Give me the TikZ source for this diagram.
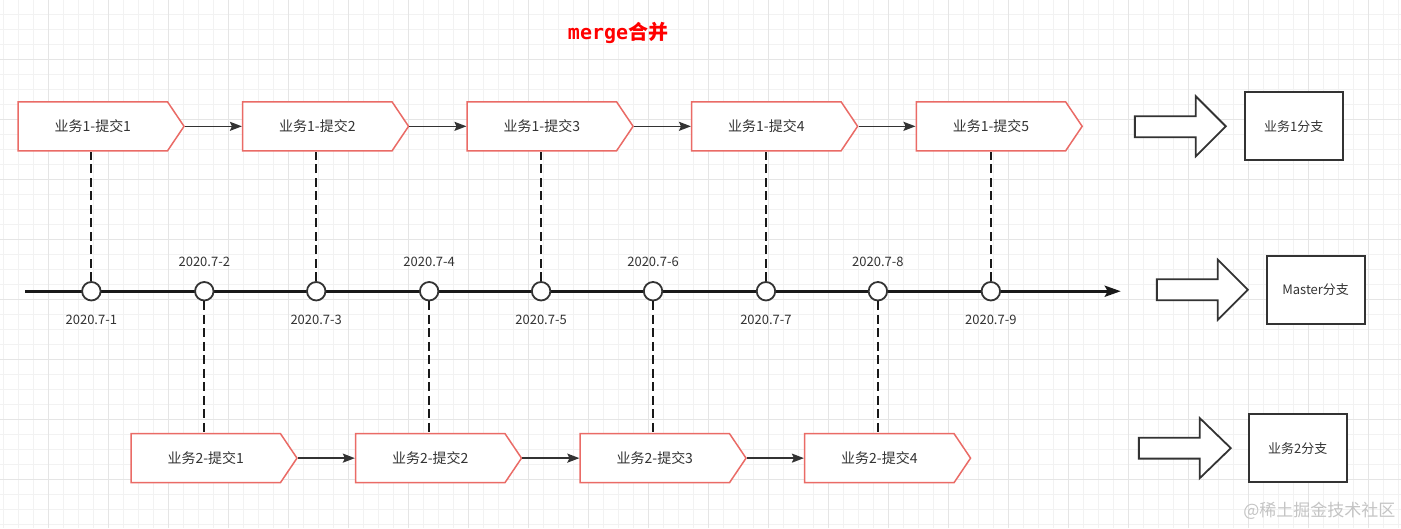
\documentclass[tikz,border=0pt]{standalone}
\usepackage{fontspec}
\setmainfont{Noto Sans CJK SC}
\newfontfamily\monofont{DejaVu Sans Mono}
\usepackage{tikz}
\usetikzlibrary{shapes.symbols, arrows.meta, positioning}

\definecolor{commitred}{HTML}{EA6B66}
\definecolor{inkgray}{HTML}{333333}
\definecolor{gridminor}{HTML}{F2F2F2}
\definecolor{gridmajor}{HTML}{E5E5E5}
\definecolor{markgray}{HTML}{C4C4C4}

\begin{document}
\begin{tikzpicture}[
  x=1pt, y=-1pt,
  commit/.style={signal, signal to=east, signal pointer angle=112, draw=commitred, fill=white, line width=1.5pt, minimum width=166pt, minimum height=49pt, inner sep=0pt, text=inkgray, font=\fontsize{14}{16}\selectfont},
  dot/.style={circle, draw=inkgray, fill=white, line width=1.8pt, minimum size=18.5pt, inner sep=0pt},
  datelbl/.style={inner sep=0pt, text=inkgray, font=\fontsize{13}{15}\selectfont},
  branch/.style={rectangle, draw=inkgray, fill=white, line width=1.8pt, minimum width=98pt, minimum height=68pt, text=inkgray, font=\fontsize{13}{15}\selectfont},
  bigarrow/.style={draw=inkgray, fill=white, line width=1.8pt, line join=miter},
  arrow/.style={-{Stealth[length=12pt, width=9pt, inset=2pt]}, line width=1.6pt, draw=inkgray},
  timeline/.style={-{Stealth[length=16pt, width=11pt, inset=3pt]}, line width=3pt, draw=black!90},
  dashline/.style={dash pattern=on 9pt off 4.5pt, line width=2pt, draw=black!90}
]

% background and grid
\fill[white] (0,0) rectangle (1401,528);
\foreach \gx in {3.3,18.3,...,1401} \draw[gridminor, line width=0.8pt] (\gx,0) -- (\gx,528);
\foreach \gy in {14.3,29.3,...,528} \draw[gridminor, line width=0.8pt] (0,\gy) -- (1401,\gy);
\foreach \gx in {48.3,108.3,...,1401} \draw[gridmajor, line width=0.8pt] (\gx,0) -- (\gx,528);
\foreach \gy in {59.3,119.3,...,528} \draw[gridmajor, line width=0.8pt] (0,\gy) -- (1401,\gy);
\useasboundingbox (0,0) rectangle (1401,528);

% title
\node[text=red, font=\fontsize{20}{24}\selectfont\bfseries] (title) at (618,33) {{\monofont\bfseries merge}合并};

% master timeline
\coordinate (tstart) at (25,291);
\coordinate (tend) at (1121,291);
\draw[timeline] (tstart) -- (tend);

\node[dot] (m1) at (91,291) {};
\node[dot] (m2) at (204,291) {};
\node[dot] (m3) at (316,291) {};
\node[dot] (m4) at (429,291) {};
\node[dot] (m5) at (541,291) {};
\node[dot] (m6) at (653,291) {};
\node[dot] (m7) at (766,291) {};
\node[dot] (m8) at (878,291) {};
\node[dot] (m9) at (991,291) {};

\node[datelbl, below=13pt of m1] (d1) {2020.7-1};
\node[datelbl, above=14pt of m2] (d2) {2020.7-2};
\node[datelbl, below=13pt of m3] (d3) {2020.7-3};
\node[datelbl, above=14pt of m4] (d4) {2020.7-4};
\node[datelbl, below=13pt of m5] (d5) {2020.7-5};
\node[datelbl, above=14pt of m6] (d6) {2020.7-6};
\node[datelbl, below=13pt of m7] (d7) {2020.7-7};
\node[datelbl, above=14pt of m8] (d8) {2020.7-8};
\node[datelbl, below=13pt of m9] (d9) {2020.7-9};

% branch 1 commits
\node[commit, anchor=west] (a1) at (17,126) {业务1-提交1};
\node[commit, right=57pt of a1] (a2) {业务1-提交2};
\node[commit, right=57pt of a2] (a3) {业务1-提交3};
\node[commit, right=57pt of a3] (a4) {业务1-提交4};
\node[commit, right=57pt of a4] (a5) {业务1-提交5};

% branch 2 commits
\node[commit, anchor=west] (b1) at (130,458) {业务2-提交1};
\node[commit, right=57pt of b1] (b2) {业务2-提交2};
\node[commit, right=57pt of b2] (b3) {业务2-提交3};
\node[commit, right=57pt of b3] (b4) {业务2-提交4};

\draw[arrow] (a1.east) -- (a2.west);
\draw[arrow] (a2.east) -- (a3.west);
\draw[arrow] (a3.east) -- (a4.west);
\draw[arrow] (a4.east) -- (a5.west);
\draw[arrow] (b1.east) -- (b2.west);
\draw[arrow] (b2.east) -- (b3.west);
\draw[arrow] (b3.east) -- (b4.west);

% commits to master
\draw[dashline] (m1.north) -- (m1.north |- a1.south);
\draw[dashline] (m3.north) -- (m3.north |- a2.south);
\draw[dashline] (m5.north) -- (m5.north |- a3.south);
\draw[dashline] (m7.north) -- (m7.north |- a4.south);
\draw[dashline] (m9.north) -- (m9.north |- a5.south);
\draw[dashline] (m2.south) -- (m2.south |- b1.north);
\draw[dashline] (m4.south) -- (m4.south |- b2.north);
\draw[dashline] (m6.south) -- (m6.south |- b3.north);
\draw[dashline] (m8.south) -- (m8.south |- b4.north);

% branch legend
\node[branch] (br1) at (1294,126) {业务1分支};
\node[branch] (brm) at (1316,289.5) {Master分支};
\node[branch] (br2) at (1298,448) {业务2分支};

\draw[bigarrow] ([xshift=-18pt]br1.west) -- ++(-30,-30) -- ++(0,20) -- ++(-61,0) -- ++(0,21) -- ++(61,0) -- ++(0,19) -- cycle;
\draw[bigarrow] ([xshift=-18pt]brm.west) -- ++(-30,-30) -- ++(0,19.5) -- ++(-61,0) -- ++(0,21) -- ++(61,0) -- ++(0,19.5) -- cycle;
\draw[bigarrow] ([xshift=-17pt]br2.west) -- ++(-31,-30) -- ++(0,19.5) -- ++(-61,0) -- ++(0,21) -- ++(61,0) -- ++(0,19.5) -- cycle;

% watermark
\node[anchor=east, inner sep=0pt, text=markgray, font=\fontsize{17}{20}\selectfont] (mark) at (1396,511) {@稀土掘金技术社区};

\end{tikzpicture}
\end{document}
